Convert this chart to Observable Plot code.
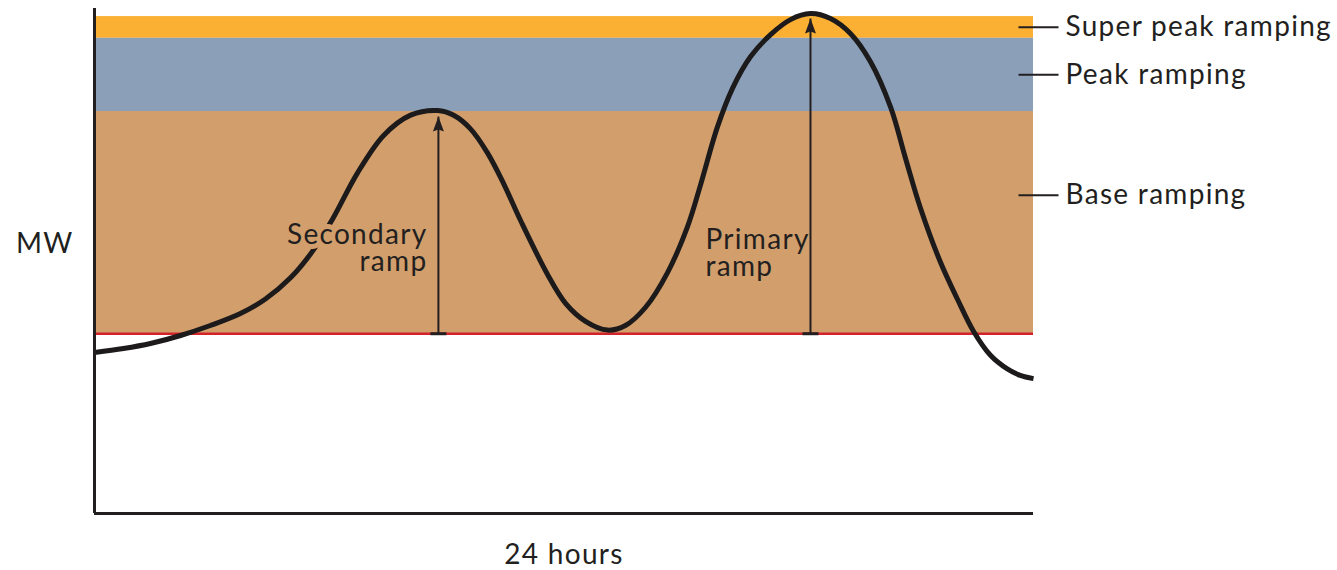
<!DOCTYPE html>
<html>
<head>
<meta charset="utf-8">
<script src="https://cdn.jsdelivr.net/npm/d3@7"></script>
<script src="https://cdn.jsdelivr.net/npm/@observablehq/plot@0.6"></script>
<style>
  html, body { margin: 0; padding: 0; background: #fff; }
  #chart svg { display: block; }
  #chart svg text { letter-spacing: 1.3px; }
</style>
</head>
<body>
<div id="chart"></div>
<script>
// ---- data ----
const hours = [0.00, 0.74, 1.43, 2.20, 2.96, 3.73, 4.37, 5.01, 5.57, 6.08, 6.72, 7.39, 8.08, 8.77, 9.18, 9.61, 10.04, 10.45, 10.89, 11.58, 12.04, 12.55, 13.11, 13.57, 14.08, 14.65, 15.16, 15.49, 15.92, 16.31, 16.77, 17.28, 17.79, 18.30, 18.81, 19.32, 19.83, 20.35, 20.73, 21.11, 21.62, 22.06, 22.47, 22.90, 23.33, 23.66, 24.00];
const load  = [31.88, 32.67, 33.66, 35.25, 37.23, 39.60, 42.48, 46.67, 51.90, 58.24, 67.41, 74.87, 78.89, 79.80, 78.85, 76.16, 71.45, 65.43, 58.02, 47.33, 41.62, 38.06, 36.32, 37.23, 40.79, 47.76, 56.87, 65.07, 76.51, 84.24, 90.48, 94.83, 97.80, 98.99, 98.02, 95.05, 89.50, 80.40, 70.30, 60.50, 49.80, 42.38, 36.04, 31.33, 28.63, 27.35, 26.71];

const bandNames  = ["Super peak ramping", "Peak ramping", "Base ramping"];
const bandLow    = [94.1, 79.6, 35.6];
const bandHigh   = [98.4, 94.1, 79.6];
const bandColors = ["#fbb034", "#8ba0b8", "#d19e6c"];
const bandLabelY = [96.3, 86.9, 63.0];

const baseLevel = 35.6;
const rampNames = ["Secondary\nramp", "Primary\nramp"];
const rampHour  = [8.79, 18.30];
const rampTop   = [78.6, 98.0];

// ---- derived tables ----
const curve = hours.map((h, i) => ({h, v: load[i]}));
const bands = bandNames.map((name, i) => ({name, lo: bandLow[i], hi: bandHigh[i], color: bandColors[i], ly: bandLabelY[i]}));
const ramps = rampNames.map((name, i) => ({name, h: rampHour[i], top: rampTop[i], mid: (baseLevel + rampTop[i]) / 2}));

const ink = "#231f20";
const font = "Lato, 'Open Sans', sans-serif";
const fs = 28;

// custom symbols
const arrowHead = {draw(ctx) { ctx.moveTo(0, 0); ctx.lineTo(5.5, 15); ctx.lineTo(0, 13); ctx.lineTo(-5.5, 15); ctx.closePath(); }};
const baseBar   = {draw(ctx) { ctx.rect(-8, -1.5, 16, 3); }};
const labelTick = {draw(ctx) { ctx.rect(-15, -1, 40, 2); }};

const chart = Plot.plot({
  width: 1337,
  height: 570,
  marginLeft: 94,
  marginRight: 304,
  marginTop: 8,
  marginBottom: 57,
  x: {domain: [0, 24], axis: null},
  y: {domain: [0, 100], axis: null},
  style: {background: "white", fontFamily: font, overflow: "visible"},
  marks: [
    Plot.rect(bands, {x1: 0, x2: 24, y1: "lo", y2: "hi", fill: "color"}),
    Plot.ruleY([baseLevel], {stroke: "#d2232a", strokeWidth: 2.5}),
    Plot.line(curve, {x: "h", y: "v", curve: "catmull-rom", stroke: "#1c1a1a", strokeWidth: 5, strokeLinecap: "butt"}),
    // labels for the ramps (halo breaks the curve behind "Secondary")
    Plot.text(ramps.slice(0, 1), {x: "h", y: "mid", text: "name", textAnchor: "end", dx: -11, dy: 24, fontSize: fs, fill: ink, stroke: "#d19e6c", strokeWidth: 10, lineHeight: 0.95}),
    Plot.text(ramps.slice(1), {x: "h", y: "mid", text: "name", textAnchor: "start", dx: -105, dy: 78, fontSize: fs, fill: ink, lineHeight: 0.95}),
    // arrows
    Plot.link(ramps, {x1: "h", x2: "h", y1: baseLevel, y2: "top", stroke: ink, strokeWidth: 2}),
    Plot.dot(ramps, {x: "h", y: "top", symbol: arrowHead, r: 5, fill: ink, stroke: "none"}),
    Plot.dot(ramps, {x: "h", y: baseLevel, symbol: baseBar, r: 5, fill: ink, stroke: "none"}),
    // band labels on the right
    Plot.dot(bands, {x: 24, y: "ly", symbol: labelTick, r: 5, fill: ink, stroke: "none"}),
    Plot.text(bands, {x: 24, y: "ly", text: "name", textAnchor: "start", dx: 32, fontSize: fs, fill: ink}),
    // axes
    Plot.ruleX([0], {stroke: ink, strokeWidth: 3}),
    Plot.ruleY([0], {stroke: ink, strokeWidth: 3}),
    Plot.text(["MW"], {frameAnchor: "left", text: d => d, textAnchor: "end", dx: -21, dy: -17, fontSize: fs, fill: ink}),
    Plot.text(["24 hours"], {frameAnchor: "bottom", text: d => d, dy: 50, fontSize: fs, fill: ink})
  ]
});
document.getElementById("chart").appendChild(chart);
</script>
</body>
</html>
